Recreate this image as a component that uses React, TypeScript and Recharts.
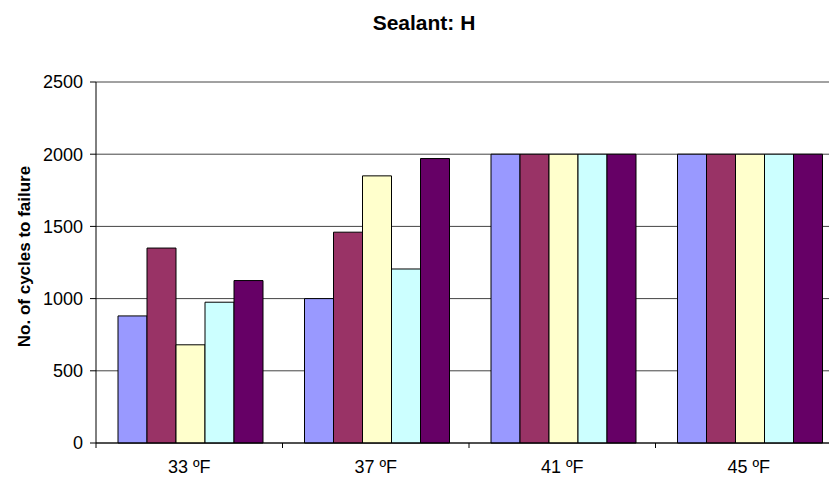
import React from "react";
import { BarChart, Bar, XAxis, YAxis, CartesianGrid } from "recharts";

const categories = ["33 ºF", "37 ºF", "41 ºF", "45 ºF"];
const seriesA = [880, 1000, 2000, 2000];
const seriesB = [1350, 1460, 2000, 2000];
const seriesC = [680, 1850, 2000, 2000];
const seriesD = [975, 1205, 2000, 2000];
const seriesE = [1125, 1970, 2000, 2000];
const yTicks = [0, 500, 1000, 1500, 2000, 2500];

const colors = ["#9999FF", "#993366", "#FFFFCC", "#CCFFFF", "#660066"];
const keys = ["a", "b", "c", "d", "e"];

const data = categories.map((name, i) => ({
  name,
  a: seriesA[i],
  b: seriesB[i],
  c: seriesC[i],
  d: seriesD[i],
  e: seriesE[i],
}));

const CHART_W = 850;
const CHART_H = 481;
const LEFT = 96;
const RIGHT = 8;
const X_H = 38;
const PLOT_BOTTOM = CHART_H - X_H;
const band = (CHART_W - LEFT - RIGHT) / categories.length;
const FONT = "Liberation Sans, Arial, sans-serif";

function XTick(props: any) {
  const { x, payload, index } = props;
  const y = PLOT_BOTTOM;
  return (
    <g>
      {index === 0 && (
        <line x1={x - band / 2} x2={x - band / 2} y1={y} y2={y + 5} stroke="#000" />
      )}
      <line x1={x + band / 2} x2={x + band / 2} y1={y} y2={y + 5} stroke="#000" />
      <text
        x={x}
        y={y + 24}
        dominantBaseline="central"
        textAnchor="middle"
        fontFamily={FONT}
        fontSize={18}
        fill="#000"
      >
        {payload.value}
      </text>
    </g>
  );
}

export default function App() {
  return (
    <div
      style={{
        position: "relative",
        margin: -8,
        width: 837,
        height: 481,
        overflow: "hidden",
        background: "#fff",
      }}
    >
      <div style={{ position: "absolute", left: 0, top: 0 }}>
        <BarChart
          width={CHART_W}
          height={CHART_H}
          data={data}
          margin={{ top: 82, right: RIGHT, left: 0, bottom: 0 }}
          barCategoryGap={22}
          barGap={0}
        >
          <CartesianGrid vertical={false} stroke="#444" />
          <XAxis
            dataKey="name"
            height={X_H}
            axisLine={{ stroke: "#000" }}
            tickLine={false}
            tickSize={0}
            tickMargin={0}
            tick={<XTick />}
            interval={0}
          />
          <YAxis
            width={LEFT}
            domain={[0, 2500]}
            ticks={yTicks}
            interval={0}
            axisLine={{ stroke: "#000" }}
            tickLine={{ stroke: "#000" }}
            tickSize={6}
            tickMargin={7}
            tick={{ fill: "#000", fontSize: 18, fontFamily: FONT }}
          />
          {keys.map((k, i) => (
            <Bar
              key={k}
              dataKey={k}
              fill={colors[i]}
              stroke="#000"
              strokeWidth={1}
              isAnimationActive={false}
            />
          ))}
        </BarChart>
      </div>
      <svg
        width={837}
        height={481}
        style={{ position: "absolute", left: 0, top: 0, pointerEvents: "none" }}
      >
        <text
          x={424}
          y={30}
          textAnchor="middle"
          fontFamily={FONT}
          fontWeight="bold"
          fontSize={21}
          fill="#000"
        >
          Sealant: H
        </text>
        <text
          transform="translate(30,256.5) rotate(-90)"
          textAnchor="middle"
          fontFamily={FONT}
          fontWeight="bold"
          fontSize={17}
          fill="#000"
        >
          No. of cycles to failure
        </text>
      </svg>
    </div>
  );
}
